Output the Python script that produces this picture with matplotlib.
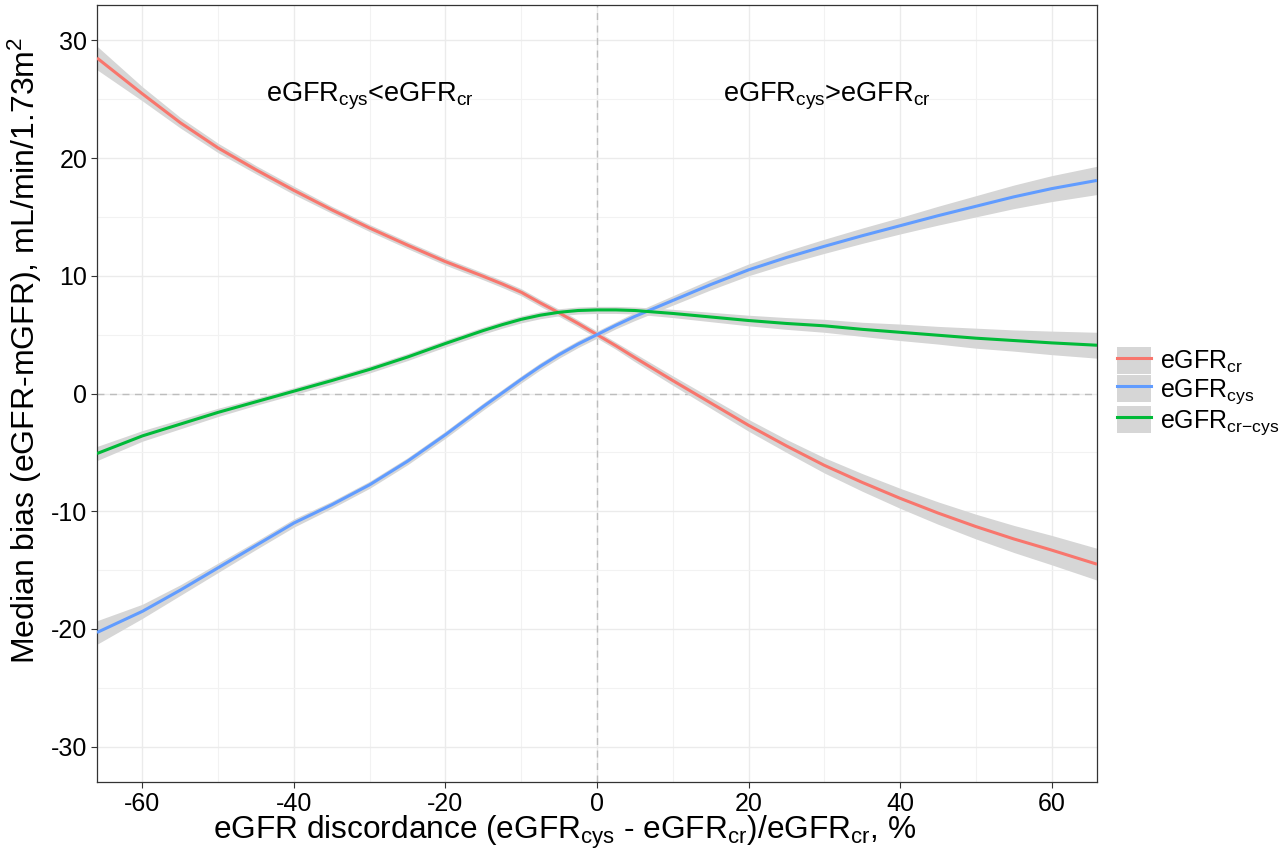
import numpy as np
import matplotlib
matplotlib.use("Agg")
import matplotlib.pyplot as plt
from matplotlib.patches import Patch
from matplotlib.lines import Line2D
from matplotlib.legend_handler import HandlerTuple

plt.rcParams['font.family'] = ['Liberation Sans', 'DejaVu Sans']
plt.rcParams['mathtext.fontset'] = 'custom'
plt.rcParams['mathtext.rm'] = 'Liberation Sans'
plt.rcParams['mathtext.it'] = 'Liberation Sans:italic'
plt.rcParams['axes.unicode_minus'] = False

# datos
discordance = [-66, -60, -55, -50, -45, -40, -35, -30, -25, -20, -15, -12.5, -10, -7.5, -5,
               -2.5, 0, 2.5, 5, 10, 15, 20, 25, 30, 35, 40, 45, 50, 55, 60, 66]

bias_cr = [28.5, 25.45, 23.0, 20.85, 19.0, 17.25, 15.6, 14.05, 12.6, 11.2, 9.95, 9.3, 8.6, 7.7, 6.85,
           5.95, 5.0, 4.05, 3.05, 1.1, -0.8, -2.7, -4.45, -6.1, -7.55, -8.9, -10.15, -11.3, -12.35, -13.3, -14.5]
bias_cys = [-20.3, -18.5, -16.7, -14.8, -12.9, -11.0, -9.45, -7.75, -5.75, -3.5, -1.1, 0.05, 1.2, 2.3, 3.3,
            4.2, 5.0, 5.8, 6.55, 7.9, 9.25, 10.5, 11.55, 12.5, 13.4, 14.25, 15.1, 15.9, 16.7, 17.4, 18.1]
bias_crcys = [-5.1, -3.6, -2.6, -1.6, -0.7, 0.2, 1.1, 2.05, 3.1, 4.25, 5.35, 5.85, 6.3, 6.65, 6.9,
              7.05, 7.1, 7.1, 7.05, 6.8, 6.5, 6.2, 5.95, 5.75, 5.45, 5.2, 4.95, 4.7, 4.5, 4.3, 4.1]

# semi-ancho de la banda de confianza
se_cr = [1.0, 0.6, 0.45, 0.4, 0.35, 0.35, 0.3, 0.3, 0.3, 0.3, 0.3, 0.3, 0.3, 0.3, 0.3,
         0.3, 0.3, 0.3, 0.35, 0.4, 0.45, 0.5, 0.55, 0.65, 0.75, 0.85, 0.95, 1.05, 1.15, 1.25, 1.35]
se_cys = [1.0, 0.6, 0.45, 0.4, 0.35, 0.35, 0.3, 0.3, 0.3, 0.3, 0.3, 0.3, 0.3, 0.3, 0.3,
          0.3, 0.3, 0.3, 0.35, 0.4, 0.45, 0.5, 0.55, 0.6, 0.65, 0.7, 0.8, 0.9, 1.0, 1.1, 1.2]
se_crcys = [0.6, 0.45, 0.4, 0.35, 0.3, 0.3, 0.3, 0.3, 0.3, 0.3, 0.3, 0.3, 0.3, 0.3, 0.3,
            0.3, 0.3, 0.3, 0.3, 0.35, 0.4, 0.45, 0.5, 0.55, 0.6, 0.7, 0.75, 0.85, 0.9, 1.0, 1.1]

labels = [r'eGFR$_{\mathrm{cr}}$', r'eGFR$_{\mathrm{cys}}$', r'eGFR$_{\text{cr−cys}}$']
colors = ['#F8766D', '#619CFF', '#00BA38']

x = np.array(discordance)
series = [(np.array(bias_cr), np.array(se_cr)),
          (np.array(bias_cys), np.array(se_cys)),
          (np.array(bias_crcys), np.array(se_crcys))]

fig = plt.figure(figsize=(12.81, 8.49), dpi=100)
ax = fig.add_axes([97 / 1281, 1 - 782 / 849, 1000 / 1281, 777 / 849])

band_color = '#D6D6D6'
for (y, se) in series:
    ax.fill_between(x, y - se, y + se, color=band_color, lw=0, zorder=2)
for (y, se), c in zip(series, colors):
    ax.plot(x, y, color=c, lw=2.2, zorder=3, solid_capstyle='butt', solid_joinstyle='round')

ax.axhline(0, color='#BDBDBD', ls=(0, (5, 4)), lw=1.0, zorder=1.5)
ax.axvline(0, color='#BDBDBD', ls=(0, (5, 4)), lw=1.0, zorder=1.5)

ax.set_xlim(-66, 66)
ax.set_ylim(-33, 33)
ax.set_xticks([-60, -40, -20, 0, 20, 40, 60])
ax.set_xticks([-50, -30, -10, 10, 30, 50], minor=True)
ax.set_yticks([-30, -20, -10, 0, 10, 20, 30])
ax.set_yticks([-25, -15, -5, 5, 15, 25], minor=True)
ax.grid(True, which='major', color='#EBEBEB', lw=1.0, zorder=0)
ax.grid(True, which='minor', color='#F2F2F2', lw=0.8, zorder=0)
ax.set_axisbelow(True)
ax.tick_params(which='major', direction='out', length=4, width=0.8, color='#333333',
               labelsize=18, labelcolor='black', pad=3)
ax.tick_params(which='minor', length=0)
for s in ax.spines.values():
    s.set_color('#333333')
    s.set_linewidth(0.9)

ax.set_xlabel(r'eGFR discordance (eGFR$_{\mathrm{cys}}$ - eGFR$_{\mathrm{cr}}$)/eGFR$_{\mathrm{cr}}$, %',
              fontsize=22.8)
ax.xaxis.set_label_coords(0.468, -0.041)
ax.set_ylabel(r'Median bias (eGFR-mGFR), mL/min/1.73m$^{2}$', fontsize=23)
ax.yaxis.set_label_coords(-0.053, 0.555)

ax.text(-30, 25.2, r'eGFR$_{\mathrm{cys}}$<eGFR$_{\mathrm{cr}}$', fontsize=19.5, ha='center', va='center')
ax.text(30.3, 25.2, r'eGFR$_{\mathrm{cys}}$>eGFR$_{\mathrm{cr}}$', fontsize=19.5, ha='center', va='center')

handles = [(Patch(facecolor=band_color, edgecolor='none'), Line2D([], [], color=c, lw=2.2))
           for c in colors]
ax.legend(handles, labels, handler_map={tuple: HandlerTuple(ndivide=1)},
          loc='center left', bbox_to_anchor=(1.02, 0.502), frameon=False, fontsize=18,
          labelspacing=0.0, handlelength=1.36, handleheight=1.3, handletextpad=0.35,
          borderpad=0, borderaxespad=0)

fig.savefig('out.png', dpi=100)
